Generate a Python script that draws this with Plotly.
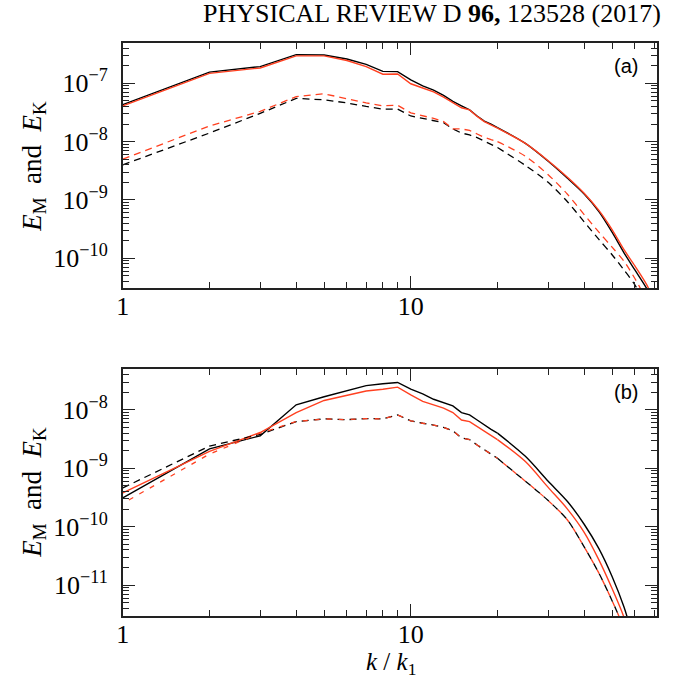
import plotly.graph_objects as go

# ---------------- data ----------------
k_a = [1, 2, 3, 4, 5, 6, 7, 8, 9, 10, 11, 12, 13, 14, 15, 16, 17, 18, 19, 20,
       25, 30, 35, 40, 45, 50, 55, 60, 66, 70]
a_black_solid = [4.3e-8, 1.55e-7, 1.93e-7, 3.1e-7, 3.05e-7, 2.6e-7, 2.1e-7, 1.6e-7, 1.58e-7, 1.14e-7,
                 9.0e-8, 7.6e-8, 6.2e-8, 4.9e-8, 4.1e-8, 3.5e-8, 2.75e-8, 2.25e-8, 2.0e-8, 1.74e-8,
                 9.3e-9, 4.6e-9, 2.35e-9, 1.26e-9, 6.3e-10, 2.8e-10, 1.24e-10, 6.3e-11, 3.0e-11, 1.6e-11]
a_red_solid = [4.1e-8, 1.48e-7, 1.83e-7, 2.95e-7, 2.95e-7, 2.45e-7, 1.93e-7, 1.43e-7, 1.44e-7, 9.8e-8,
               8.3e-8, 7.1e-8, 5.8e-8, 4.7e-8, 3.8e-8, 3.5e-8, 2.7e-8, 2.2e-8, 1.9e-8, 1.7e-8,
               9.3e-9, 4.7e-9, 2.45e-9, 1.3e-9, 6.6e-10, 3.1e-10, 1.4e-10, 7.4e-11, 3.5e-11, 1.8e-11]
k_a_dash = [1, 2, 3, 4, 5, 6, 7, 8, 9, 10, 11, 12, 13, 14, 15, 16, 17, 18, 19, 20,
            25, 30, 35, 40, 45, 50, 55, 60, 65]
a_black_dash = [4.0e-9, 1.4e-8, 3.05e-8, 5.5e-8, 5.2e-8, 4.6e-8, 4.0e-8, 3.6e-8, 3.6e-8, 2.75e-8,
                2.5e-8, 2.3e-8, 2.1e-8, 1.65e-8, 1.4e-8, 1.3e-8, 1.17e-8, 1.02e-8, 9.0e-9, 7.9e-9,
                3.9e-9, 2.0e-9, 9.3e-10, 4.2e-10, 2.1e-10, 1.15e-10, 6.3e-11, 3.5e-11, 1.6e-11]
a_red_dash = [5.0e-9, 1.85e-8, 3.3e-8, 5.9e-8, 6.6e-8, 5.4e-8, 4.6e-8, 4.1e-8, 4.2e-8, 3.1e-8,
              2.8e-8, 2.5e-8, 2.2e-8, 1.65e-8, 1.65e-8, 1.55e-8, 1.35e-8, 1.18e-8, 1.08e-8, 1.0e-8,
              5.6e-9, 2.7e-9, 1.25e-9, 5.6e-10, 2.8e-10, 1.55e-10, 8.9e-11, 4.5e-11, 2.2e-11]

k_b = [1, 2, 3, 4, 5, 6, 7, 8, 9, 10, 11, 12, 13, 14, 15, 16, 17, 18, 19, 20,
       25, 30, 35, 40, 45, 50, 55, 60]
b_black_solid = [3.1e-10, 2.15e-9, 3.6e-9, 1.22e-8, 1.68e-8, 2.1e-8, 2.6e-8, 2.8e-8, 2.95e-8, 2.26e-8,
                 1.88e-8, 1.52e-8, 1.33e-8, 1.17e-8, 9.0e-9, 8.2e-9, 6.7e-9, 5.5e-9, 4.65e-9, 4.0e-9,
                 1.6e-9, 6.0e-10, 2.7e-10, 1.1e-10, 4.2e-11, 1.4e-11, 4.2e-12, 1.0e-12]
b_red_solid = [3.8e-10, 1.95e-9, 4.1e-9, 9.0e-9, 1.45e-8, 1.8e-8, 2.1e-8, 2.25e-8, 2.45e-8, 1.8e-8,
               1.4e-8, 1.22e-8, 1.07e-8, 9.0e-9, 6.7e-9, 6.3e-9, 5.2e-9, 4.25e-9, 3.7e-9, 3.1e-9,
               1.3e-9, 4.7e-10, 2.0e-10, 8.0e-11, 2.7e-11, 8.7e-12, 2.8e-12, 7.0e-13]
b_black_dash = [4.6e-10, 2.4e-9, 3.8e-9, 6.3e-9, 7.0e-9, 6.8e-9, 7.1e-9, 7.0e-9, 8.2e-9, 6.5e-9,
                5.9e-9, 5.5e-9, 5.0e-9, 4.4e-9, 3.3e-9, 3.1e-9, 2.5e-9, 2.06e-9, 1.76e-9, 1.48e-9,
                6.0e-10, 2.8e-10, 1.3e-10, 4.5e-11, 1.6e-11, 5.4e-12, 1.8e-12, 5.0e-13]
b_red_dash = [2.5e-10, 1.75e-9, 4.0e-9, 6.3e-9, 7.0e-9, 6.8e-9, 7.1e-9, 7.0e-9, 8.2e-9, 6.5e-9,
              5.9e-9, 5.5e-9, 5.0e-9, 4.4e-9, 3.3e-9, 3.1e-9, 2.5e-9, 2.06e-9, 1.76e-9, 1.48e-9,
              6.0e-10, 2.8e-10, 1.3e-10, 4.5e-11, 1.6e-11, 5.4e-12, 1.8e-12, 5.0e-13]

x_tick_vals = [1, 10]
x_tick_text = ["1", "10"]
a_y_decades = [-10, -9, -8, -7]
b_y_decades = [-11, -10, -9, -8]
header = "PHYSICAL REVIEW D <b>96,</b> 123528 (2017)"
y_title = "<i>E</i><sub>M</sub>  and  <i>E</i><sub>K</sub>"
x_title = "<i>k</i> / <i>k</i><sub>1</sub>"
panel_labels = ["(a)", "(b)"]

# ---------------- styling ----------------
W, H = 686, 679
BLACK = "#000000"
RED = "#ff4020"
AXC = "#222222"
SERIF = "Liberation Serif"
SANS = "Liberation Sans"
K_SPLIT = 20  # sampled integer k below, smooth tail above

fig = go.Figure()

def add(x, y, color, dash, xa, ya, width=1.3):
    i = x.index(K_SPLIT)
    for xs, ys, shape in ((x[:i + 1], y[:i + 1], "linear"), (x[i:], y[i:], "spline")):
        fig.add_trace(go.Scatter(x=xs, y=ys, mode="lines", xaxis=xa, yaxis=ya,
                                 line=dict(color=color, width=width, dash=dash,
                                           shape=shape, smoothing=0.8),
                                 hoverinfo="skip"))

add(k_a, a_black_solid, BLACK, "solid", "x", "y", 1.4)
add(k_a, a_red_solid, RED, "solid", "x", "y", 1.4)
add(k_a_dash, a_black_dash, BLACK, "7px,5px", "x", "y")
add(k_a_dash, a_red_dash, RED, "7px,5px", "x", "y")

add(k_b, b_black_solid, BLACK, "solid", "x2", "y2", 1.4)
add(k_b, b_red_solid, RED, "solid", "x2", "y2", 1.4)
add(k_b, b_black_dash, BLACK, "7px,5px", "x2", "y2")
add(k_b, b_red_dash, RED, "0px,7px,5px,0px", "x2", "y2")

x_minor = [m for m in range(2, 10)] + [10 * m for m in range(2, 10)]

def ydec_minor(decs):
    lo, hi = decs[0] - 1, decs[-1] + 1
    vals = []
    for e in range(lo, hi + 1):
        for m in range(2, 10):
            vals.append(m * 10.0 ** e)
    return vals

def sup(e):
    return "10<sup>\u2212%d</sup>" % abs(e)

xdom = [117 / W, 657 / W]
xrange_log = [0, 1.856]

base = dict(type="log", showline=True, linecolor=AXC, linewidth=1.6, mirror="allticks",
            ticks="inside", ticklen=12, tickwidth=1, tickcolor=AXC, showgrid=False,
            zeroline=False, tickfont=dict(family=SERIF, size=26, color="black"))

def xaxis_cfg(anchor):
    return dict(base, domain=xdom, range=xrange_log, anchor=anchor, tickmode="array",
                tickvals=x_tick_vals, ticktext=x_tick_text, ticklabelstandoff=-6,
                minor=dict(tickmode="array", tickvals=x_minor, ticks="inside", ticklen=6,
                           tickcolor=AXC, showgrid=False))

def yaxis_cfg(anchor, dom, rng, decs):
    return dict(base, domain=dom, range=rng, anchor=anchor, tickmode="array",
                tickvals=[10.0 ** e for e in decs], ticktext=[sup(e) for e in decs],
                ticklabelstandoff=8,
                minor=dict(tickmode="array", tickvals=ydec_minor(decs), ticks="inside",
                           ticklen=6, tickcolor=AXC, showgrid=False))

fig.update_layout(
    width=W, height=H, margin=dict(l=0, r=0, t=0, b=0),
    paper_bgcolor="white", plot_bgcolor="white", showlegend=False,
    xaxis=xaxis_cfg("y"),
    yaxis=yaxis_cfg("x", [1 - 288 / H, 1 - 43 / H], [-10.51, -6.31], a_y_decades),
    xaxis2=xaxis_cfg("y2"),
    yaxis2=yaxis_cfg("x2", [1 - 616 / H, 1 - 369 / H], [-11.53, -7.30], b_y_decades),
)

def ann(text, xpx, ypx, size, family, xanchor="center", yanchor="middle", angle=0):
    fig.add_annotation(text=text, x=xpx / W, y=1 - ypx / H, xref="paper", yref="paper",
                       xanchor=xanchor, yanchor=yanchor, showarrow=False, textangle=angle,
                       font=dict(family=family, size=size, color="black"))

ann(header, 663, 13, 26, SERIF, xanchor="right")
ann(y_title, 27, 166, 27, SERIF, angle=-90)
ann(y_title, 27, 492, 27, SERIF, angle=-90)
ann(x_title, 388, 663, 25, SERIF)
ann(panel_labels[0], 625, 66, 20, SANS)
ann(panel_labels[1], 625, 392, 20, SANS)

fig.write_html("out.html")
